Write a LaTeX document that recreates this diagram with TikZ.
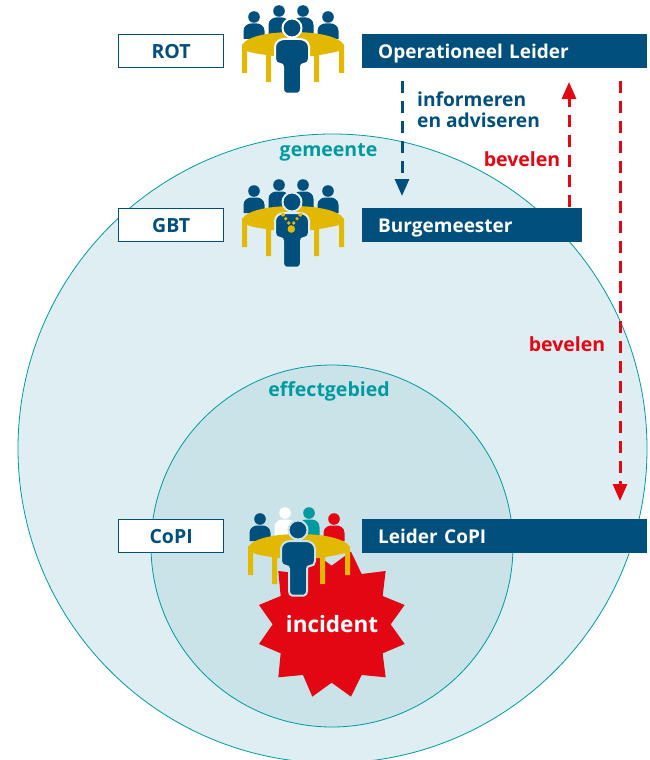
\documentclass[tikz,border=0pt]{standalone}
\usepackage{fontspec}
\setmainfont{Open Sans}
\usetikzlibrary{arrows.meta}
\definecolor{dblue}{HTML}{004F7C}
\definecolor{gold}{HTML}{E2B800}
\definecolor{alarm}{HTML}{E30613}
\definecolor{teal}{HTML}{009AA0}
\definecolor{outerbg}{HTML}{DFEEF2}
\definecolor{innerbg}{HTML}{C9E3E9}
\tikzset{
  rolebox/.style={draw=dblue,line width=1.3pt,fill=white,minimum width=105pt,minimum height=33pt,inner sep=0pt,anchor=north west,text=dblue,font=\fontsize{19.5}{22}\selectfont\bfseries},
  leaderbar/.style={fill=dblue,minimum height=34pt,inner xsep=16pt,inner ysep=0pt,anchor=north west,text=white,align=left,font=\fontsize{19}{22}\selectfont\bfseries,text height=14.5pt,text depth=0pt},
  lbl/.style={inner sep=0pt,font=\fontsize{19.5}{22}\selectfont\bfseries},
  dashline/.style={line width=3pt,dash pattern=on 12pt off 8pt},
  tip/.style={-{Triangle[length=17pt,width=14pt]}},
}
\newcommand{\backperson}[2]{%
  \fill[#2] (#1,-11) circle (5.8);
  \fill[#2] (#1-10.5,11) -- (#1-10.5,3) .. controls (#1-10.5,-2) and (#1-6,-4.5) .. (#1-3,-4.5) -- (#1+3,-4.5) .. controls (#1+6,-4.5) and (#1+10.5,-2) .. (#1+10.5,3) -- (#1+10.5,11) -- cycle;
}
\newcommand{\backpersonhigh}[2]{%
  \fill[#2] (#1,-17) circle (5.8);
  \fill[#2] (#1-10.5,6) -- (#1-10.5,-3) .. controls (#1-10.5,-8) and (#1-6,-10.5) .. (#1-3,-10.5) -- (#1+3,-10.5) .. controls (#1+6,-10.5) and (#1+10.5,-8) .. (#1+10.5,-3) -- (#1+10.5,6) -- cycle;
}
% #1 x, #2 y of the front head; #3 halo colour; #4-#7 colours of the persons behind
\newcommand{\meeting}[7]{%
  \begin{scope}[shift={(#1,#2)}]
    \backperson{-38}{#4}
    \backpersonhigh{-13}{#5}
    \backpersonhigh{11}{#6}
    \backperson{36}{#7}
    \fill[gold] (-50,45) -- (-50,17) .. controls (-44,7) and (-18,4) .. (1,4) .. controls (20,4) and (46,7) .. (52,17) -- (52,45) -- (47,45) -- (47,23) .. controls (40,25) and (33,26) .. (27,27) -- (27,54) -- (22,54) -- (22,28) -- (-21,28) -- (-21,54) -- (-26,54) -- (-26,27) .. controls (-33,26) and (-40,25) .. (-45,23) -- (-45,45) -- cycle;
    \path[fill=dblue,draw=#3,line width=2pt] (-6,65.5) .. controls (-8,65.5) and (-9,63) .. (-9,61) -- (-9,39) .. controls (-9,37) and (-10,36) .. (-12,36) .. controls (-15,36) and (-17,34) .. (-17,31) -- (-17,19) .. controls (-17,14) and (-12,11) .. (-8,11) -- (8,11) .. controls (12,11) and (17,14) .. (17,19) -- (17,31) .. controls (17,34) and (15,36) .. (12,36) .. controls (10,36) and (9,37) .. (9,39) -- (9,61) .. controls (9,63) and (8,65.5) .. (6,65.5) -- cycle;
    \path[fill=dblue,draw=#3,line width=2pt] (0,0) circle (9.5);
  \end{scope}
}
\begin{document}
\begin{tikzpicture}[x=1pt,y=-1pt]
\useasboundingbox (0,0) rectangle (649,760);
\begin{scope}
  \clip (0,0) rectangle (649,760);
  \node[circle,draw=teal,line width=0.8pt,fill=outerbg,minimum size=629pt,inner sep=0pt] (gemeente) at (332.5,448.5) {};
\end{scope}
\node[circle,draw=teal,line width=0.8pt,fill=innerbg,minimum size=362pt,inner sep=0pt] (effect) at (332,546) {};
\node[lbl,text=teal] (lgem) at (328.5,152) {gemeente};
\node[lbl,text=teal] (leff) at (329,391) {effectgebied};
% star
\begin{scope}[shift={(230,500)},x=0.3333pt,y=-0.3333pt]
  \fill[alarm] (363,155) -- (395,222) -- (467,213) -- (458,288) -- (524,315) -- (482,373) -- (524,432) -- (458,460) -- (467,532) -- (395,525) -- (363,590) -- (305,548) -- (247,590) -- (219,525) -- (145,532) -- (152,460) -- (87,432) -- (128,373) -- (87,315) -- (152,288) -- (145,213) -- (219,222) -- (247,155) -- (305,197) -- cycle;
\end{scope}
\node[inner sep=0pt,text=white,font=\fontsize{22.5}{24}\selectfont\bfseries] (inc) at (332,624) {incident};
% role boxes
\node[rolebox] (rot) at (118,34) {ROT};
\node[rolebox] (gbt) at (118,208) {GBT};
\node[rolebox] (copi) at (118,519) {CoPI};
% leader bars
\node[leaderbar,minimum width=285pt,text width=253pt] (ol) at (362,34) {Operationeel Leider};
\node[leaderbar,minimum width=220pt,text width=188pt] (bm) at (362,208) {Burgemeester};
\node[leaderbar,minimum width=285pt,text width=253pt] (lc) at (362,519) {Leider CoPI};
% groups
\meeting{292}{28}{white}{dblue}{dblue}{dblue}{dblue}
\meeting{292}{202}{outerbg}{dblue}{dblue}{dblue}{dblue}
\begin{scope}[shift={(292,202)}]
  \fill[gold] (-9,12.7) circle (2) (8.3,12.7) circle (2) (-6.3,16.7) circle (1.8) (5,16.7) circle (1.8) (-3.3,21) circle (1.8) (1.7,21) circle (1.8) (-0.7,27) circle (3.8);
\end{scope}
\meeting{298}{530}{innerbg}{dblue}{white}{teal}{alarm}
% connectors
\coordinate (a1) at (402,81);
\coordinate (a2) at (402,196);
\coordinate (b1) at (569,207);
\coordinate (b2) at (569,82);
\coordinate (c1) at (620,81);
\coordinate (c2) at (620,501);
\draw[dashline,dblue,tip] (a1) -- (a2);
\draw[dashline,alarm,tip] (b1) -- (b2);
\draw[dashline,alarm,tip] (c1) -- (c2);
\node[lbl,text=dblue,align=left,anchor=north west,font=\fontsize{19.2}{21}\selectfont\bfseries] (inf) at (417,92) {informeren\\en adviseren};
\node[lbl,text=alarm] (bev1) at (522,159) {bevelen};
\node[lbl,text=alarm] (bev2) at (567,344) {bevelen};
\end{tikzpicture}
\end{document}
